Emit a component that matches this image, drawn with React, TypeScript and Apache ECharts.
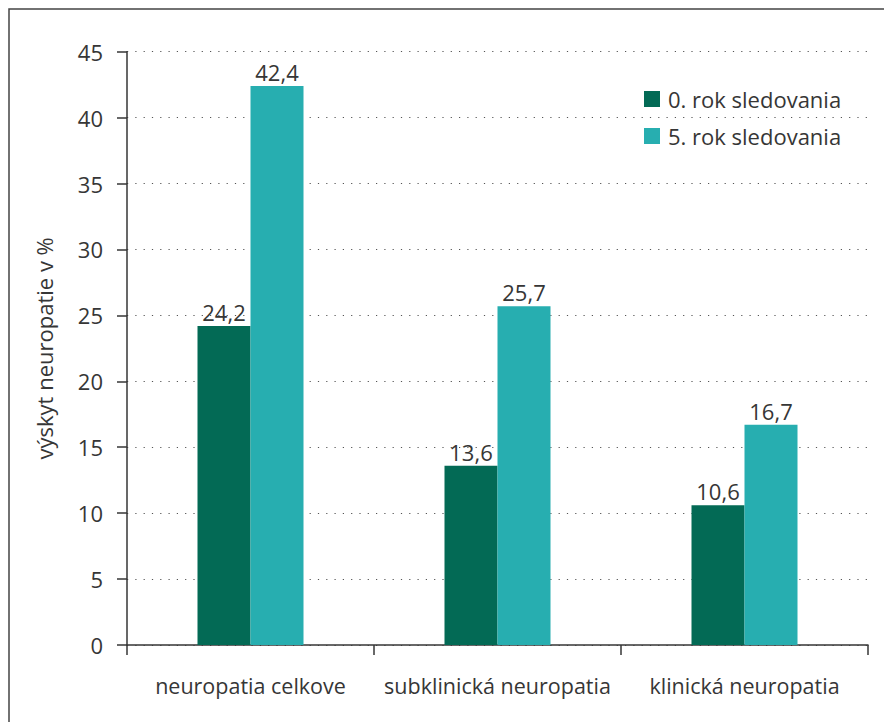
import React, { useEffect, useRef } from "react";
import * as echarts from "echarts";

const categories = ["neuropatia celkove", "subklinická neuropatia", "klinická neuropatia"];
const seriesNames = ["0. rok sledovania", "5. rok sledovania"];
const year0 = [24.2, 13.6, 10.6];
const year5 = [42.4, 25.7, 16.7];
const yTitle = "výskyt neuropatie v %";

const FONT = "'Open Sans', 'Noto Sans', sans-serif";
const TXT = "#363636";

export default function App() {
  const ref = useRef<HTMLDivElement>(null);
  useEffect(() => {
    if (!ref.current) return;
    const chart = echarts.init(ref.current, null, { renderer: "svg" });
    const label = {
      show: true,
      position: "top",
      distance: 3,
      color: TXT,
      fontSize: 22,
      fontFamily: FONT,
      formatter: (p: any) => String(p.value).replace(".", ","),
    };
    chart.setOption({
      animation: false,
      backgroundColor: "#ffffff",
      textStyle: { fontFamily: FONT },
      graphic: [
        {
          type: "rect",
          shape: { x: 9, y: 9, width: 900, height: 740 },
          style: { fill: "none", stroke: "#444", lineWidth: 1.5 },
          silent: true,
        },
      ],
      legend: {
        orient: "vertical",
        left: 639,
        top: 83,
        itemWidth: 16,
        itemHeight: 16,
        itemGap: 15,
        icon: "rect",
        textStyle: { color: TXT, fontSize: 22, fontFamily: FONT, padding: [0, 0, 0, 3] },
        data: seriesNames,
      },
      grid: { left: 127, top: 51.7, right: 884 - 868, bottom: 722 - 645 },
      xAxis: {
        type: "category",
        data: categories,
        axisLine: { lineStyle: { color: TXT, width: 1.5 } },
        axisTick: { show: true, length: 10, inside: false, lineStyle: { color: TXT, width: 1.5 } },
        axisLabel: { color: TXT, fontSize: 21.5, fontFamily: FONT, margin: 29, interval: 0, hideOverlap: false },
        splitLine: { show: false },
      },
      yAxis: {
        type: "value",
        min: 0,
        max: 45,
        interval: 5,
        name: yTitle,
        nameLocation: "middle",
        nameGap: 72,
        nameTextStyle: { color: TXT, fontSize: 22, fontFamily: FONT },
        axisLine: { show: true, lineStyle: { color: TXT, width: 1.5 } },
        axisTick: { show: true, length: 10, lineStyle: { color: TXT, width: 1.5 } },
        axisLabel: { color: TXT, fontSize: 22, fontFamily: FONT, margin: 24 },
        splitLine: { show: true, lineStyle: { color: "#555", width: 1.2, type: [1.2, 7.1] } },
      },
      series: [
        {
          name: seriesNames[0],
          type: "bar",
          data: year0,
          barWidth: 53,
          barGap: "0%",
          itemStyle: { color: "#036A55" },
          label,
        },
        {
          name: seriesNames[1],
          type: "bar",
          data: year5,
          barWidth: 53,
          barGap: "0%",
          itemStyle: { color: "#27AEB0" },
          label,
        },
      ],
    });
    return () => chart.dispose();
  }, []);
  return (
    <div
      ref={ref}
      style={{ position: "fixed", left: 0, top: 0, width: 884, height: 722 }}
    />
  );
}
